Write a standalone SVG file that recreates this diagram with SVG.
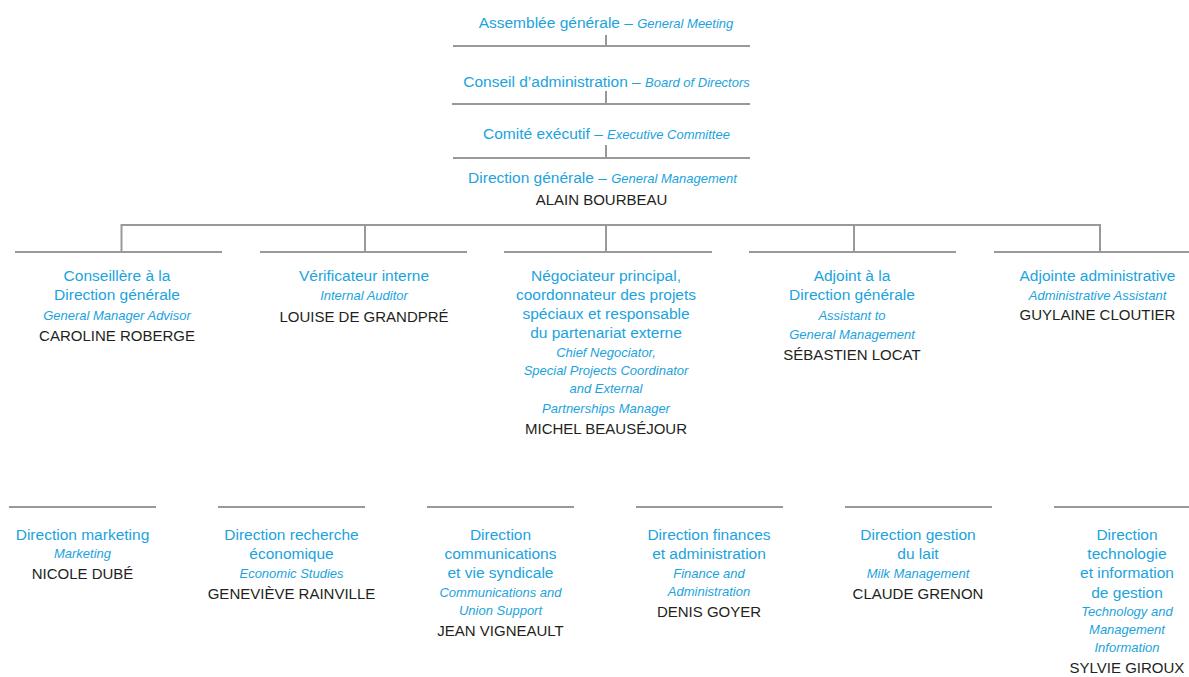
<svg xmlns="http://www.w3.org/2000/svg" width="1189" height="677" viewBox="0 0 1189 677">
<style>
  text { font-family: "Liberation Sans", Arial, sans-serif; text-anchor: middle; }
  .t { fill: #1ba3dd; font-size: 15.5px; }
  .e { fill: #1ba3dd; font-size: 13px; font-style: italic; }
  .n { fill: #231f20; font-size: 15px; }
  .ln { stroke: #999999; stroke-width: 2; fill: none; }
</style>
<rect width="1189" height="677" fill="#ffffff"/>

<g id="connectors" class="ln">
  <line x1="606" y1="35" x2="606" y2="46"/>
  <line x1="606" y1="91" x2="606" y2="104"/>
  <line x1="606" y1="145" x2="606" y2="158"/>
  <polyline points="121.5,252 121.5,225 1100,225 1100,252"/>
  <line x1="365" y1="225" x2="365" y2="252"/>
  <line x1="606" y1="225" x2="606" y2="252"/>
  <line x1="854" y1="225" x2="854" y2="252"/>
</g>

<g id="assemblee">
  <text x="606" y="28"><tspan class="t">Assemblée générale – </tspan><tspan class="e">General Meeting</tspan></text>
  <line class="ln" x1="453" y1="46" x2="750" y2="46"/>
</g>
<g id="conseil">
  <text x="606.5" y="87"><tspan class="t">Conseil d’administration – </tspan><tspan class="e">Board of Directors</tspan></text>
  <line class="ln" x1="452" y1="104" x2="750" y2="104"/>
</g>
<g id="comite">
  <text x="606.5" y="139"><tspan class="t">Comité exécutif – </tspan><tspan class="e">Executive Committee</tspan></text>
  <line class="ln" x1="453" y1="158" x2="750" y2="158"/>
</g>
<g id="direction-generale">
  <text x="602.5" y="183"><tspan class="t">Direction générale – </tspan><tspan class="e">General Management</tspan></text>
  <text class="n" x="601.5" y="205">ALAIN BOURBEAU</text>
</g>

<g id="conseillere">
  <line class="ln" x1="15" y1="252" x2="222" y2="252"/>
  <text class="t" x="117" y="281">Conseillère à la</text>
  <text class="t" x="117" y="300">Direction générale</text>
  <text class="e" x="117" y="320">General Manager Advisor</text>
  <text class="n" x="117" y="341">CAROLINE ROBERGE</text>
</g>
<g id="verificateur">
  <line class="ln" x1="260" y1="252" x2="467" y2="252"/>
  <text class="t" x="364" y="281">Vérificateur interne</text>
  <text class="e" x="364" y="300">Internal Auditor</text>
  <text class="n" x="364" y="322">LOUISE DE GRANDPRÉ</text>
</g>
<g id="negociateur">
  <line class="ln" x1="504" y1="252" x2="712" y2="252"/>
  <text class="t" x="606" y="281">Négociateur principal,</text>
  <text class="t" x="606" y="300">coordonnateur des projets</text>
  <text class="t" x="606" y="319">spéciaux et responsable</text>
  <text class="t" x="606" y="338">du partenariat externe</text>
  <text class="e" x="606" y="357">Chief Negociator,</text>
  <text class="e" x="606" y="375">Special Projects Coordinator</text>
  <text class="e" x="606" y="393">and External</text>
  <text class="e" x="606" y="413">Partnerships Manager</text>
  <text class="n" x="606" y="434">MICHEL BEAUSÉJOUR</text>
</g>
<g id="adjoint">
  <line class="ln" x1="749" y1="252" x2="956" y2="252"/>
  <text class="t" x="852" y="281">Adjoint à la</text>
  <text class="t" x="852" y="300">Direction générale</text>
  <text class="e" x="852" y="320">Assistant to</text>
  <text class="e" x="852" y="339">General Management</text>
  <text class="n" x="852" y="360">SÉBASTIEN LOCAT</text>
</g>
<g id="adjointe">
  <line class="ln" x1="994" y1="252" x2="1189" y2="252"/>
  <text class="t" x="1097.5" y="281">Adjointe administrative</text>
  <text class="e" x="1097.5" y="300">Administrative Assistant</text>
  <text class="n" x="1097.5" y="320">GUYLAINE CLOUTIER</text>
</g>

<g id="marketing">
  <line class="ln" x1="9" y1="507" x2="156" y2="507"/>
  <text class="t" x="82.5" y="540">Direction marketing</text>
  <text class="e" x="82.5" y="558">Marketing</text>
  <text class="n" x="82.5" y="579">NICOLE DUBÉ</text>
</g>
<g id="recherche">
  <line class="ln" x1="218" y1="507" x2="365" y2="507"/>
  <text class="t" x="291.5" y="540">Direction recherche</text>
  <text class="t" x="291.5" y="559">économique</text>
  <text class="e" x="291.5" y="578">Economic Studies</text>
  <text class="n" x="291.5" y="599">GENEVIÈVE RAINVILLE</text>
</g>
<g id="communications">
  <line class="ln" x1="427" y1="507" x2="574" y2="507"/>
  <text class="t" x="500.5" y="540">Direction</text>
  <text class="t" x="500.5" y="559">communications</text>
  <text class="t" x="500.5" y="578">et vie syndicale</text>
  <text class="e" x="500.5" y="597">Communications and</text>
  <text class="e" x="500.5" y="615">Union Support</text>
  <text class="n" x="500.5" y="636">JEAN VIGNEAULT</text>
</g>
<g id="finances">
  <line class="ln" x1="636" y1="507" x2="783" y2="507"/>
  <text class="t" x="709" y="540">Direction finances</text>
  <text class="t" x="709" y="559">et administration</text>
  <text class="e" x="709" y="578">Finance and</text>
  <text class="e" x="709" y="596">Administration</text>
  <text class="n" x="709" y="617">DENIS GOYER</text>
</g>
<g id="lait">
  <line class="ln" x1="845" y1="507" x2="992" y2="507"/>
  <text class="t" x="918" y="540">Direction gestion</text>
  <text class="t" x="918" y="559">du lait</text>
  <text class="e" x="918" y="578">Milk Management</text>
  <text class="n" x="918" y="599">CLAUDE GRENON</text>
</g>
<g id="technologie">
  <line class="ln" x1="1054" y1="507" x2="1189" y2="507"/>
  <text class="t" x="1127" y="540">Direction</text>
  <text class="t" x="1127" y="559">technologie</text>
  <text class="t" x="1127" y="578">et information</text>
  <text class="t" x="1127" y="598">de gestion</text>
  <text class="e" x="1127" y="616">Technology and</text>
  <text class="e" x="1127" y="634">Management</text>
  <text class="e" x="1127" y="652">Information</text>
  <text class="n" x="1127" y="673">SYLVIE GIROUX</text>
</g>
</svg>
